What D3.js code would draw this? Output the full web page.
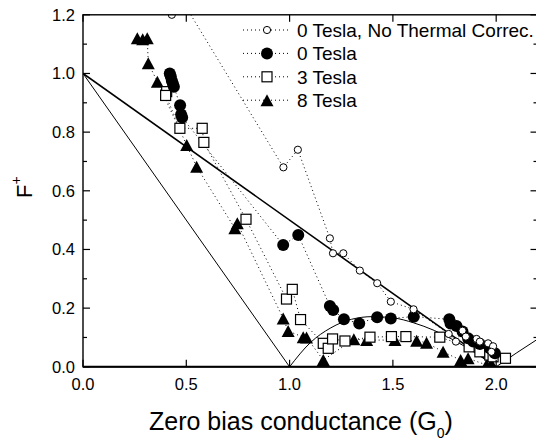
<!DOCTYPE html>
<html>
<head>
<meta charset="utf-8">
<script src="https://cdn.jsdelivr.net/npm/d3@7"></script>
<style>
  body { margin: 0; background: white; }
  text { font-family: "Liberation Sans", Arial, Helvetica, sans-serif; fill: black; }
</style>
</head>
<body>
<script>
const width = 536;
const height = 441;

// data: [G (G0), F+]
const noCorr0T = [
  [0.43, 1.20], [0.47, 1.26], [0.97, 0.68], [1.04, 0.74], [1.195, 0.438], [1.21, 0.387],
  [1.26, 0.387], [1.34, 0.328], [1.424, 0.285], [1.49, 0.222], [1.60, 0.196], [1.77, 0.112],
  [1.805, 0.086], [1.837, 0.123], [1.853, 0.103], [1.905, 0.095], [1.921, 0.086],
  [1.961, 0.080], [1.985, 0.070], [1.977, 0.051]
];
const tesla0 = [
  [0.42, 1.00], [0.425, 0.99], [0.43, 0.975], [0.435, 0.965], [0.44, 0.955], [0.47, 0.892],
  [0.475, 0.86], [0.48, 0.85], [0.969, 0.415], [1.042, 0.449], [1.195, 0.207], [1.211, 0.194],
  [1.263, 0.162], [1.337, 0.148], [1.424, 0.169], [1.49, 0.165], [1.601, 0.171], [1.773, 0.162],
  [1.779, 0.148], [1.808, 0.139], [1.837, 0.120], [1.864, 0.097], [1.889, 0.086],
  [1.921, 0.078], [1.969, 0.063], [1.994, 0.046]
];
const tesla3 = [
  [0.405, 0.938], [0.40, 0.925], [0.469, 0.813], [0.577, 0.813], [0.585, 0.765], [0.789, 0.503],
  [0.985, 0.231], [1.013, 0.264], [1.053, 0.161], [1.163, 0.080], [1.187, 0.063], [1.208, 0.095],
  [1.268, 0.088], [1.389, 0.101], [1.493, 0.103], [1.563, 0.103], [1.727, 0.101],
  [1.869, 0.068], [1.921, 0.051], [1.969, 0.040], [1.985, 0.034], [2.045, 0.029]
];
const tesla8 = [
  [0.263, 1.12], [0.289, 1.117], [0.311, 1.12], [0.316, 1.035], [0.36, 0.972], [0.502, 0.756],
  [0.55, 0.682], [0.735, 0.472], [0.747, 0.489], [0.969, 0.165], [0.993, 0.122], [1.066, 0.101],
  [1.082, 0.10], [1.163, 0.023], [1.311, 0.094], [1.373, 0.091], [1.51, 0.091], [1.615, 0.089],
  [1.663, 0.082], [1.743, 0.051], [1.828, 0.023], [1.864, 0.029], [1.953, 0.006], [1.977, 0.01]
];

// reference lines / curves
const lineHalf = [[0, 1], [2, 0]];
const lineOne = [[0, 1], [1, 0]];
const curveOneTwo = [
  [1, 0], [1.1, 0.082], [1.2, 0.133], [1.3, 0.162], [1.4, 0.171], [1.5, 0.167],
  [1.6, 0.15], [1.7, 0.124], [1.8, 0.089], [1.9, 0.047], [2, 0]
];
const curveTwoUp = [[2, 0], [2.1, 0.048], [2.2, 0.094]];

const legendLabels = ["0 Tesla, No Thermal Correc.", "0 Tesla", "3 Tesla", "8 Tesla"];

const x = d3.scaleLinear().domain([0, 2.2]).range([83, 537.5]);
const y = d3.scaleLinear().domain([0, 1.2]).range([366.8, 14.8]);

const svg = d3.select("body").append("svg")
    .attr("width", width)
    .attr("height", height);

svg.append("clipPath").attr("id", "plot")
  .append("rect")
    .attr("x", x(0)).attr("y", y(1.2))
    .attr("width", x(2.2) - x(0)).attr("height", y(0) - y(1.2));

const line = d3.line().x(d => x(d[0])).y(d => y(d[1]));
const plot = svg.append("g").attr("clip-path", "url(#plot)");

// dotted connections
[tesla8, tesla3, tesla0, noCorr0T].forEach(s => {
  plot.append("path")
      .attr("d", line(s))
      .attr("fill", "none")
      .attr("stroke", "black")
      .attr("stroke-width", 1)
      .attr("stroke-dasharray", "1,3");
});

// theory
plot.append("path").attr("d", line(lineHalf))
    .attr("fill", "none").attr("stroke", "black").attr("stroke-width", 1.6);
plot.append("path").attr("d", line(lineOne))
    .attr("fill", "none").attr("stroke", "black").attr("stroke-width", 1);
plot.append("path").attr("d", line.curve(d3.curveMonotoneX)(curveOneTwo))
    .attr("fill", "none").attr("stroke", "black").attr("stroke-width", 1);
plot.append("path").attr("d", line(curveTwoUp))
    .attr("fill", "none").attr("stroke", "black").attr("stroke-width", 1);
line.curve(d3.curveLinear);

const tri = "M0,-6L6.5,6L-6.5,6Z";
function marker(g, kind) {
  if (kind === 0) {
    g.append("circle").attr("r", 3.6).attr("fill", "white").attr("stroke", "black").attr("stroke-width", 1);
  } else if (kind === 1) {
    g.append("circle").attr("r", 6).attr("fill", "black");
  } else if (kind === 2) {
    g.append("rect").attr("x", -5).attr("y", -5).attr("width", 10).attr("height", 10)
        .attr("fill", "white").attr("stroke", "black").attr("stroke-width", 1.2);
  } else {
    g.append("path").attr("d", tri).attr("fill", "black");
  }
}

[[tesla8, 3], [tesla3, 2], [tesla0, 1], [noCorr0T, 0]].forEach(([s, k]) => {
  plot.selectAll(null)
    .data(s)
    .enter()
    .append("g")
      .attr("transform", d => `translate(${x(d[0])},${y(d[1])})`)
      .each(function () { marker(d3.select(this), k); });
});

// frame + ticks (all inward)
svg.append("rect")
    .attr("x", x(0)).attr("y", y(1.2))
    .attr("width", x(2.2) - x(0)).attr("height", y(0) - y(1.2))
    .attr("fill", "none").attr("stroke", "black").attr("stroke-width", 1.4);
svg.append("line")
    .attr("x1", x(0)).attr("x2", width).attr("y1", y(0)).attr("y2", y(0))
    .attr("stroke", "black").attr("stroke-width", 2);

const ax = svg.append("g").attr("stroke", "black").attr("stroke-width", 1.2);
x.ticks(5).forEach(t => {
  ax.append("line").attr("x1", x(t)).attr("x2", x(t)).attr("y1", y(0)).attr("y2", y(0) - 7);
  ax.append("line").attr("x1", x(t)).attr("x2", x(t)).attr("y1", y(1.2)).attr("y2", y(1.2) + 7);
});
y.ticks(12).forEach((t, i) => {
  const len = i % 2 === 0 ? 7 : 4;
  ax.append("line").attr("x1", x(0)).attr("x2", x(0) + len).attr("y1", y(t)).attr("y2", y(t));
  ax.append("line").attr("x1", x(2.2)).attr("x2", x(2.2) - len).attr("y1", y(t)).attr("y2", y(t));
});

const fmt = d3.format(".1f");
svg.selectAll(".xl")
  .data(x.ticks(5))
  .enter().append("text")
    .attr("x", d => x(d)).attr("y", 390)
    .attr("text-anchor", "middle")
    .attr("font-size", 16.5)
    .text(fmt);
svg.selectAll(".yl")
  .data(y.ticks(6))
  .enter().append("text")
    .attr("x", 75).attr("y", d => y(d))
    .attr("dy", "0.36em")
    .attr("text-anchor", "end")
    .attr("font-size", 16.5)
    .text(fmt);

// axis titles
const xt = svg.append("text")
    .attr("x", 149).attr("y", 430)
    .attr("font-size", 25);
xt.append("tspan").text("Zero bias conductance (G");
xt.append("tspan").attr("font-size", 14).attr("dy", 8).text("0");
xt.append("tspan").attr("dy", -8).text(")");

const yt = svg.append("text")
    .attr("transform", "translate(32,198) rotate(-90)")
    .attr("font-size", 22);
yt.append("tspan").text("F");
yt.append("tspan").attr("font-size", 14).attr("dy", -11).text("+");

// legend
const leg = svg.append("g");
legendLabels.forEach((lab, i) => {
  const ly = 30 + i * 23.4;
  leg.append("line")
      .attr("x1", 243).attr("x2", 291).attr("y1", ly).attr("y2", ly)
      .attr("stroke", "black").attr("stroke-width", 1).attr("stroke-dasharray", "1,3");
  marker(leg.append("g").attr("transform", `translate(267,${ly})`), i);
  leg.append("text")
      .attr("x", 297).attr("y", ly).attr("dy", "0.36em")
      .attr("font-size", 19)
      .text(lab);
});
</script>
</body>
</html>
